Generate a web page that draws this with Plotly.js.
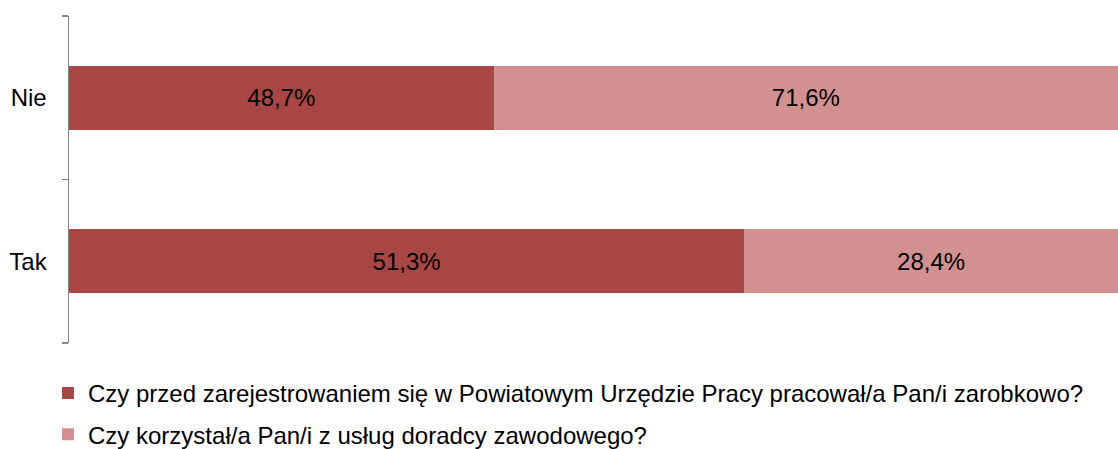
<!DOCTYPE html>
<html>
<head>
<meta charset="utf-8">
<script src="https://cdn.plot.ly/plotly-3.0.1.min.js"></script>
<style>html,body{margin:0;padding:0;background:#fff;}#chart{width:1118px;height:449px;}</style>
</head>
<body>
<div id="chart"></div>
<script>
const categories = ["Tak", "Nie"];
const seriesNames = [
  "Czy przed zarejestrowaniem się w Powiatowym Urzędzie Pracy pracował/a Pan/i zarobkowo?",
  "Czy korzystał/a Pan/i z usług doradcy zawodowego?"
];
const pracowal = [51.3, 48.7];
const doradca = [28.4, 71.6];
const colors = ["#A84644", "#D29190"];

function fmt(v){ return v.toFixed(1).replace('.', ',') + '%'; }

const traces = [pracowal, doradca].map((vals, i) => ({
  type: 'bar',
  orientation: 'h',
  y: categories,
  x: vals,
  name: seriesNames[i],
  legendgroup: 'g' + i,
  marker: {color: colors[i], line: {width: 0}},
  text: vals.map(fmt),
  textposition: 'inside',
  insidetextanchor: 'middle',
  textfont: {family: 'Liberation Sans, Arial, sans-serif', size: 24, color: '#000'},
  hoverinfo: 'none'
}));

const layout = {
  width: 1118, height: 449,
  barmode: 'stack',
  barnorm: 'percent',
  bargap: 0.61,
  margin: {l: 69, r: 0, t: 16, b: 106, autoexpand: false},
  paper_bgcolor: '#fff',
  plot_bgcolor: 'rgba(0,0,0,0)',
  font: {family: 'Liberation Sans, Arial, sans-serif', size: 24, color: '#000'},
  showlegend: true,
  legend: {
    orientation: 'v',
    x: -0.02, xanchor: 'left',
    yref: 'container',
    y: 0.174, yanchor: 'top',
    font: {size: 24, color: '#000'},
    traceorder: 'grouped',
    itemwidth: 30,
    tracegroupgap: 7
  },
  xaxis: {range: [0, 100], visible: false, fixedrange: true},
  yaxis: {
    type: 'category',
    showline: true, linecolor: '#868686', linewidth: 1.5,
    ticks: 'outside', tickson: 'boundaries', ticklen: 6, tickcolor: '#868686', tickwidth: 1.5,
    showgrid: false, zeroline: false,
    tickfont: {size: 24, color: '#000'},
    ticklabelstandoff: 16
  }
};

Plotly.newPlot('chart', traces, layout, {displayModeBar: false, staticPlot: true});
</script>
</body>
</html>
